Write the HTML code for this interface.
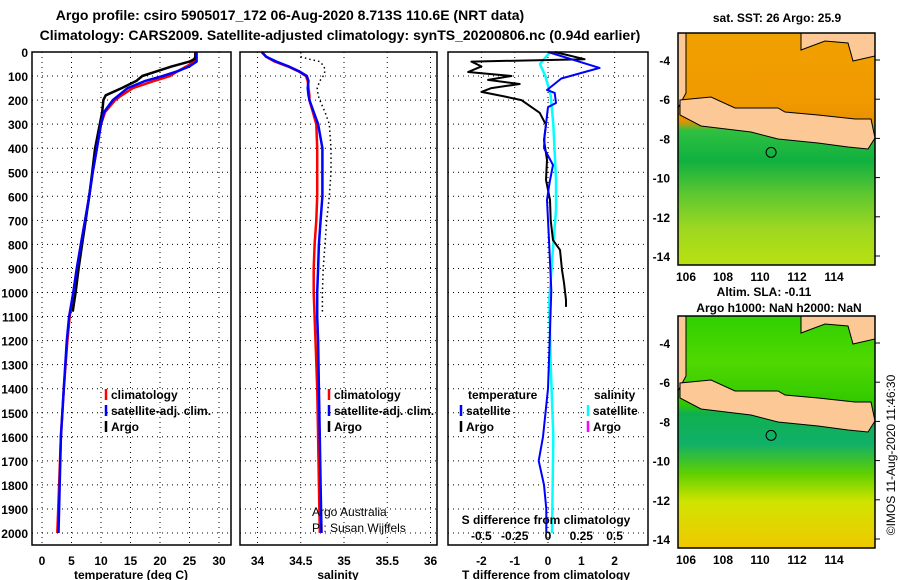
<!DOCTYPE html>
<html><head><meta charset="utf-8">
<style>
html,body{margin:0;padding:0;background:#fff;}
svg{display:block;font-family:"Liberation Sans",sans-serif;}
.b{font-weight:bold;font-size:12px;}
.t{font-weight:bold;font-size:14px;}
</style></head>
<body>
<svg id="c" width="900" height="580" viewBox="0 0 900 580" xmlns="http://www.w3.org/2000/svg">
<rect width="900" height="580" fill="#fff"/>
<text class="t" x="290" y="20" text-anchor="middle">Argo profile: csiro 5905017_172 06-Aug-2020 8.713S 110.6E (NRT data)</text>
<text class="t" x="340" y="40" text-anchor="middle">Climatology: CARS2009. Satellite-adjusted climatology: synTS_20200806.nc (0.94d earlier)</text>
<g id="maps"></g>
<g id="plots"></g>
</svg>
<script>
// ---- data ----
const depthTicks = [0,100,200,300,400,500,600,700,800,900,1000,1100,1200,1300,1400,1500,1600,1700,1800,1900,2000];
const tTicks = [0,5,10,15,20,25,30];
const sTicks = [34,34.5,35,35.5,36];
const dtTicks = [-2,-1,0,1,2];
const dsTicks = [-0.5,-0.25,0,0.25,0.5];
const dsTickLabels = ["-0.5","-0.25","0","0.25","0.5"];

const climDepth = [0,20,40,60,80,100,120,150,180,200,250,300,400,500,600,700,800,900,1000,1100,1200,1400,1600,1800,2000];
const climTemp  = [26,26,25.8,24.5,23,21.7,19,15.4,13.5,12.4,10.7,10,9.3,8.6,8,7.3,6.6,5.9,5.3,4.7,4.3,3.7,3.2,2.9,2.6];
const satTemp   = [26.2,26.2,26.2,25,23,20.5,17.5,14.5,13,12,10.5,10,9.3,8.6,8,7.3,6.6,5.9,5.3,4.6,4.2,3.7,3.2,3.0,2.8];
const climSal   = [34.05,34.1,34.2,34.35,34.47,34.56,34.58,34.59,34.6,34.6,34.64,34.68,34.69,34.69,34.69,34.68,34.66,34.65,34.65,34.66,34.67,34.69,34.7,34.71,34.72];
const satSal    = [34.05,34.1,34.22,34.36,34.48,34.57,34.59,34.58,34.59,34.6,34.65,34.7,34.75,34.75,34.75,34.73,34.71,34.7,34.69,34.69,34.7,34.71,34.72,34.73,34.74];

const argoDepth = [0,20,30,40,60,80,100,120,150,180,200,250,300,400,500,600,700,800,900,1000,1080];
const argoTemp  = [26,26,25.8,25,22,19.5,17,16,13.5,10.8,10.4,10.2,9.8,9,8.5,8,7.4,6.8,6.2,5.7,5.2];
const argoSal   = [34.5,34.5,34.6,34.72,34.77,34.78,34.76,34.72,34.69,34.7,34.72,34.78,34.83,34.85,34.85,34.83,34.8,34.78,34.76,34.75,34.75];

const dtArgoDepth = [0,30,40,60,83,100,116,133,150,166,185,200,253,303,366,449,532,615,700,782,823,906,960,1031,1060];
const dtArgo      = [0.2,1.1,-2.3,-2.0,-2.4,-1.1,-1.8,-0.85,-1.7,-2.0,-1.3,-0.8,-0.25,-0.06,-0.12,-0.03,-0.06,0.06,0.08,0.15,0.36,0.42,0.48,0.54,0.54];
const dtSatDepth = [0,66,110,158,170,212,229,345,400,470,540,615,782,990,1200,1400,1600,1700,1800,1900,2000];
const dtSat      = [0,1.55,0.4,-0.03,0.2,0.24,0,-0.1,-0.12,0.15,0.05,-0.03,0.03,0.1,0.05,0,-0.15,-0.28,-0.12,-0.05,-0.05];
const dsSatDepth = [0,50,100,180,300,532,657,800,1031,1300,1600,2000];
const dsSat      = [0.015,-0.06,-0.02,0.02,0.04,0.06,0.06,0.04,0.01,0.02,0.04,0.03];

const lonTicks = [106,108,110,112,114];
const latTicks = [-4,-6,-8,-10,-12,-14];

// ---- helpers ----
const NS="http://www.w3.org/2000/svg";
const plots=document.getElementById('plots');
const maps=document.getElementById('maps');
function mk(tag,attrs,parent){const e=document.createElementNS(NS,tag);for(const k in attrs)e.setAttribute(k,attrs[k]);(parent||plots).appendChild(e);return e;}
const TOP=52, BOT=545;
const yD = d => TOP + d*0.2405;
const xT = t => 42 + t*5.9;
const xS = s => 257.5 + (s-34)*86.5;
const xDT = v => 548 + v*33.3;
const xDS = v => 548 + v*133.2;

function grid(x0,x1,xs){
  depthTicks.forEach(d=>{const l=mk('line',{x1:x0,x2:x1,y1:yD(d),y2:yD(d),stroke:'#000','stroke-dasharray':'1,4'});

});
  xs.forEach(x=>{const l=mk('line',{x1:x,x2:x,y1:TOP,y2:BOT,stroke:'#000','stroke-dasharray':'1,4'});

});
}
function box(x0,x1,name){const r=mk('rect',{x:x0,y:TOP,width:x1-x0,height:BOT-TOP,fill:'none',stroke:'#000','stroke-width':1.5});

}
function line(xs,ds,fx,color,w,name,dash){
  const pts=xs.map((v,i)=>fx(v).toFixed(1)+','+yD(ds[i]).toFixed(1)).join(' ');
  const a={points:pts,fill:'none',stroke:color,'stroke-width':w,'stroke-linejoin':'round'};
  if(dash)a['stroke-dasharray']=dash;
  const p=mk('polyline',a);


}
function txt(x,y,s,anchor,cls,name,extra){
  const a={x:x,y:y,'text-anchor':anchor||'start'};if(cls)a['class']=cls;
  if(extra)for(const k in extra)a[k]=extra[k];
  const t=mk('text',a);t.textContent=s;


  return t;
}
function legend(x,y,color,label){
  const l=mk('line',{x1:x,x2:x,y1:y-10,y2:y+1,stroke:color,'stroke-width':2.5});


  txt(x+5,y,label,'start','b','legend-label');
}

// ---- panel 1 temperature ----
grid(32,231,tTicks.map(xT));
line(climTemp,climDepth,xT,'#f00',2.5,'climatology-temperature-line');
line(argoTemp,argoDepth,xT,'#000',2.5,'argo-temperature-line');
line(satTemp,climDepth,xT,'#00f',2.5,'satellite-temperature-line');
box(32,231,'temperature-panel');
depthTicks.forEach(d=>txt(28,yD(d)+5,String(d),'end','b','depth-tick-label'));
tTicks.forEach(t=>txt(xT(t),565,String(t),'middle','b','temperature-tick-label'));
txt(131,579,'temperature (deg C)','middle','b','temperature-axis-title');
legend(106,399,'#f00','climatology');
legend(106,415,'#00f','satellite-adj. clim.');
legend(106,431,'#000','Argo');

// ---- panel 2 salinity ----
grid(240,437,sTicks.map(xS));
line(climSal,climDepth,xS,'#f00',2.5,'climatology-salinity-line');
line(satSal,climDepth,xS,'#00f',2.5,'satellite-salinity-line');
line(argoSal,argoDepth,xS,'#000',1.5,'argo-salinity-line','1.5,3');
box(240,437,'salinity-panel');
sTicks.forEach(s=>txt(xS(s),565,String(s),'middle','b','salinity-tick-label'));
txt(338,579,'salinity','middle','b','salinity-axis-title');
legend(329,399,'#f00','climatology');
legend(329,415,'#00f','satellite-adj. clim.');
legend(329,431,'#000','Argo');
txt(312,516,'Argo Australia','start',null,'credit-line-1',{'font-size':'12px'});
txt(312,532,'PI: Susan Wijffels','start',null,'credit-line-2',{'font-size':'12px'});

// ---- panel 3 differences ----
grid(448,648,dtTicks.map(xDT));
line(dsSat,dsSatDepth,xDS,'#0ff',2.5,'satellite-salinity-diff-line');
line(dtArgo,dtArgoDepth,xDT,'#000',2,'argo-temperature-diff-line');
line(dtSat,dtSatDepth,xDT,'#00f',2,'satellite-temperature-diff-line');
box(448,648,'difference-panel');
dtTicks.forEach(v=>txt(xDT(v),565,String(v),'middle','b','t-diff-tick-label'));
dsTicks.forEach((v,i)=>txt(xDS(v),540,dsTickLabels[i],'middle','b','s-diff-tick-label'));
txt(546,524,'S difference from climatology','middle','b','s-diff-axis-title');
txt(546,579,'T difference from climatology','middle','b','t-diff-axis-title');
txt(468,399,'temperature','start','b','legend-heading-temperature');
txt(594,399,'salinity','start','b','legend-heading-salinity');
legend(461,415,'#00f','satellite');
legend(461,431,'#000','Argo');
legend(588,415,'#0ff','satellite');
legend(588,431,'#f0f','Argo');

// ---- maps ----
const MX0=678, MX1=875;
const xLon = l => 686 + (l-106)*18.5;
function drawMap(oy,kind){
  const g=mk('g',{transform:'translate(0,'+oy+')'},maps);
  
  
  const yLat = la => 60 + (-4-la)*19.6;
  const defs=mk('defs',{},g);
  const id=kind+'g';
  const gr=mk('linearGradient',{id:id,x1:0,y1:0,x2:0,y2:1},defs);
  const stops = kind==='sst'
    ? [[0,'#f0a000'],[0.3,'#f09a00'],[0.38,'#e89000'],[0.42,'#30c040'],[0.55,'#10b040'],[0.7,'#60c830'],[0.85,'#a0d820'],[1,'#b8e010']]
    : [[0,'#30d000'],[0.2,'#50d800'],[0.38,'#30c800'],[0.42,'#10b050'],[0.55,'#10b068'],[0.68,'#60d000'],[0.8,'#d0e400'],[1,'#f0c800']];
  stops.forEach(s=>mk('stop',{offset:s[0],'stop-color':s[1]},gr));
  mk('rect',{x:MX0,y:33,width:MX1-MX0,height:232,fill:'url(#'+id+')'},g);
  const land='#fcc896';
  const polys=[
    '678,33 686,33 686,93 678,108',
    '801,33 801,50 825,41 848,43 853,61 875,56 875,33',
    '680,100 711,97 735,108 778,108 785,112 818,115 855,119 871,119 875,138 868,149 848,147 818,143 778,139 751,132 701,126 680,115'
  ];
  polys.forEach(p=>{const e=mk('polygon',{points:p,fill:land,stroke:'#000','stroke-width':1},g);

});
  const c=mk('circle',{cx:xLon(110.6),cy:yLat(-8.713),r:5,fill:'none',stroke:'#000','stroke-width':1},g);


  mk('rect',{x:MX0,y:33,width:MX1-MX0,height:232,fill:'none',stroke:'#000','stroke-width':1.5},g);
  latTicks.forEach(la=>{
    mk('line',{x1:MX1,x2:MX1+5,y1:yLat(la),y2:yLat(la),stroke:'#000'},g);
    const t=mk('text',{x:670,y:yLat(la)+5,'text-anchor':'end','class':'b'},g);t.textContent=String(la);


  });
  lonTicks.forEach(lo=>{
    const t=mk('text',{x:xLon(lo),y:281,'text-anchor':'middle','class':'b'},g);t.textContent=String(lo);


  });
}
drawMap(0,'sst');
drawMap(283,'sla');
function mt(x,y,s,n){const t=mk('text',{x:x,y:y,'text-anchor':'middle','class':'b'},maps);t.textContent=s;

}
mt(777,22,'sat. SST: 26 Argo: 25.9','sst-map-title');
mt(764,296,'Altim. SLA: -0.11','sla-map-title');
mt(779,312,'Argo h1000: NaN h2000: NaN','argo-height-title');
const cr=mk('text',{x:895,y:455,'text-anchor':'middle','font-size':'12px',transform:'rotate(-90 895 455)'},maps);
cr.textContent='©IMOS 11-Aug-2020 11:46:30';


</script>
</body></html>
